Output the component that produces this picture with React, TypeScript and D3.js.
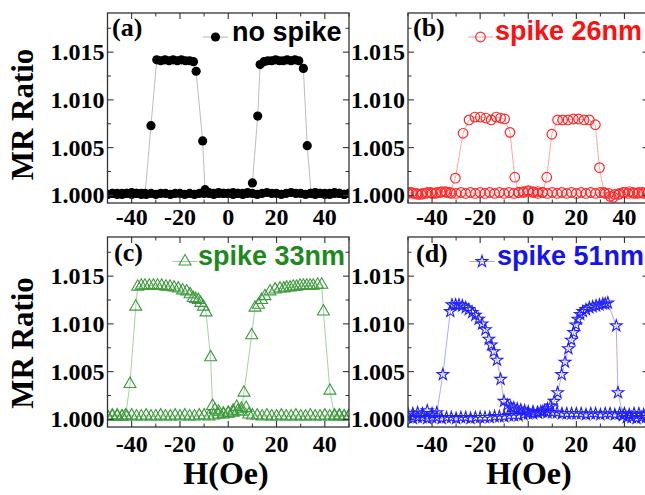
import React from 'react';
import * as d3 from 'd3';

type Pt = [number, number];

// ---------- data ----------
const xTicks = [-40, -20, 0, 20, 40];
const xTickLabels = ['-40', '-20', '0', '20', '40'];
const xMinor = [-50, -30, -10, 10, 30, 50];
const yTicks = [1.0, 1.005, 1.01, 1.015];
const yTickLabels = ['1.000', '1.005', '1.010', '1.015'];
const yMinor = [1.0025, 1.0075, 1.0125, 1.0175];
const panelLetters = ['(a)', '(b)', '(c)', '(d)'];
const seriesNames = ['no spike', 'spike 26nm', 'spike 33nm', 'spike 51nm'];

const aDown: Pt[] = [[50,1.0002],[48,1.0001],[46,1.0002],[44,1.0003],[42,1.0002],[40,1.0001],[38,1.0002],[36,1.0003],[34,1.0002],[32,1.0001],[30,1.0002],[28,1.0002],[26,1.0003],[24,1.0002],[22,1.0001],[20,1.0002],[18,1.0002],[16,1.0003],[14,1.0002],[12,1.0001],[10,1.0002],[8,1.0002],[6,1.0001],[4,1.0002],[2,1.0003],[0,1.0002],[-2,1.0002],[-4,1.0003],[-6,1.0002],[-8,1.0003],[-9.6,1.0006],[-10.6,1.0057],[-13.3,1.013],[-14.4,1.014],[-16.0,1.0141],[-17.7,1.0141],[-19.4,1.0142],[-21.1,1.0141],[-22.8,1.0142],[-24.5,1.0141],[-26.2,1.0142],[-27.9,1.0141],[-29.6,1.0142],[-32.0,1.0073],[-34.4,1.0002],[-36,1.0001],[-38,1.0002],[-40,1.0003],[-42,1.0002],[-44,1.0001],[-46,1.0002],[-48,1.0002],[-50,1.0001]];
const aUp: Pt[] = [[-50,1.0001],[-48,1.0002],[-46,1.0001],[-44,1.0002],[-42,1.0002],[-40,1.0001],[-38,1.0002],[-36,1.0002],[-34,1.0001],[-32,1.0002],[-30,1.0001],[-28,1.0002],[-26,1.0002],[-24,1.0001],[-22,1.0002],[-20,1.0002],[-18,1.0001],[-16,1.0002],[-14,1.0001],[-12,1.0002],[-10,1.0002],[-8,1.0002],[-6,1.0001],[-4,1.0002],[-2,1.0002],[0,1.0002],[2,1.0001],[4,1.0002],[6,1.0002],[8,1.0003],[10,1.0013],[12.2,1.0083],[13.2,1.0137],[14.8,1.014],[16.4,1.0141],[18.0,1.0141],[19.6,1.0142],[21.2,1.0141],[22.8,1.0141],[24.4,1.0142],[26.0,1.0141],[27.6,1.0142],[29.2,1.0141],[31.1,1.0133],[32.7,1.0052],[34.3,1.0002],[36,1.0001],[38,1.0002],[40,1.0002],[42,1.0001],[44,1.0002],[46,1.0002],[48,1.0001],[50,1.0002]];

const bDown: Pt[] = [[50,1.0003],[48,1.0002],[46,1.0003],[44,1.0002],[42,1.0004],[40,1.0003],[38,1.0002],[36,1.0001],[34,0.9999],[32,1.0002],[30,1.0003],[28,1.0002],[26,1.0003],[24,1.0002],[22,1.0003],[20,1.0002],[18,1.0003],[16,1.0002],[14,1.0003],[12,1.0002],[10,1.0003],[8,1.0002],[6,1.0003],[4,1.0002],[2,1.0004],[0,1.0005],[-2,1.0004],[-4,1.0003],[-5.6,1.0019],[-7.6,1.0066],[-9.8,1.008],[-11.5,1.0081],[-13.3,1.0082],[-15.4,1.0079],[-17.6,1.0081],[-19.9,1.0082],[-22.2,1.0082],[-24.6,1.0079],[-27.1,1.0065],[-30.3,1.0018],[-32.5,1.0003],[-34.5,1.0004],[-36.5,1.0003],[-38.5,1.0002],[-40.5,1.0003],[-42.5,1.0002],[-44.5,1.0001],[-46.5,1.0002],[-48.5,1.0003],[-50,1.0002]];
const bUp: Pt[] = [[-50,1.0003],[-48,1.0002],[-46,1.0001],[-44,1.0002],[-42,1.0003],[-40,1.0002],[-38,1.0003],[-36,1.0004],[-34,1.0003],[-32,1.0002],[-30,1.0002],[-28,1.0003],[-26,1.0002],[-24,1.0003],[-22,1.0002],[-20,1.0003],[-18,1.0002],[-16,1.0003],[-14,1.0002],[-12,1.0003],[-10,1.0002],[-8,1.0003],[-6,1.0002],[-4,1.0003],[-2,1.0003],[0,1.0004],[2,1.0003],[4,1.0004],[6,1.0003],[7.7,1.0019],[9.8,1.0064],[12.2,1.0079],[14.3,1.0079],[16.5,1.0079],[18.7,1.008],[20.9,1.008],[23.2,1.0079],[25.4,1.0079],[27.9,1.0074],[29.6,1.0029],[31.5,1.0003],[33.5,1.0002],[35.5,0.9998],[37.5,1.0001],[39.5,1.0003],[41.5,1.0002],[43.5,1.0003],[45.5,1.0002],[47.5,1.0003],[49.5,1.0002]];

const cDown: Pt[] = [[50,1.0003],[48,1.0003],[46,1.0004],[44,1.0003],[42,1.0003],[40,1.0004],[38,1.0003],[36,1.0003],[34,1.0004],[32,1.0003],[30,1.0003],[28,1.0004],[26,1.0003],[24,1.0003],[22,1.0004],[20,1.0003],[18,1.0003],[16,1.0004],[14,1.0003],[12,1.0004],[10,1.0004],[8.5,1.0005],[7.4,1.0012],[5.5,1.0008],[3.5,1.0013],[2,1.0009],[0,1.0007],[-2,1.0006],[-4,1.0008],[-5.5,1.001],[-6.5,1.0014],[-7.3,1.0065],[-9.2,1.0112],[-10.3,1.0118],[-11.4,1.0122],[-12.4,1.0125],[-13.5,1.0126],[-14.5,1.0127],[-15.8,1.0131],[-17.2,1.0134],[-18.9,1.0135],[-20.7,1.0137],[-22.4,1.0138],[-24.1,1.0139],[-25.8,1.0139],[-27.6,1.014],[-29.3,1.014],[-31.0,1.014],[-32.7,1.014],[-34.5,1.014],[-36.0,1.014],[-37.5,1.0139],[-38.3,1.0118],[-40.7,1.0037],[-42.5,1.0004],[-44,1.0003],[-46,1.0003],[-48,1.0004],[-50,1.0003]];
const cUp: Pt[] = [[-50,1.0003],[-48,1.0003],[-46,1.0004],[-44,1.0003],[-42,1.0003],[-40,1.0004],[-38,1.0003],[-36,1.0003],[-34,1.0004],[-32,1.0003],[-30,1.0003],[-28,1.0004],[-26,1.0003],[-24,1.0003],[-22,1.0004],[-20,1.0003],[-18,1.0004],[-16,1.0003],[-14,1.0003],[-12,1.0004],[-10,1.0004],[-8,1.0003],[-6,1.0004],[-4,1.0005],[-2,1.0005],[0,1.0006],[2,1.0007],[4,1.0009],[5.5,1.0011],[6.5,1.0028],[9.7,1.0088],[11.1,1.0117],[12.5,1.012],[13.8,1.0125],[15.2,1.0129],[17.3,1.0134],[19.4,1.0136],[21.4,1.0137],[23.0,1.0137],[24.2,1.0138],[25.6,1.0138],[26.9,1.0139],[28.3,1.0139],[29.7,1.014],[31.1,1.014],[32.5,1.014],[33.9,1.014],[35.2,1.014],[37.0,1.0141],[38.7,1.0141],[39.4,1.0113],[42.1,1.003],[44,1.0004],[46,1.0003],[48,1.0003],[50,1.0004]];

const dDown: Pt[] = [[50,1.0006],[48,1.0005],[46,1.0006],[44,1.0006],[42,1.0005],[40,1.0006],[38,1.0006],[36,1.0005],[34,1.0006],[32,1.0006],[30,1.0005],[28,1.0006],[26,1.0006],[24,1.0005],[22,1.0006],[20,1.0006],[18,1.0006],[16,1.0006],[14,1.0006],[12,1.0007],[10,1.0007],[8,1.0007],[6,1.0008],[4,1.0007],[2,1.0008],[0,1.0008],[-1.5,1.0009],[-3.1,1.001],[-4.6,1.0011],[-6.0,1.0012],[-7.3,1.0013],[-8.7,1.0015],[-10.1,1.0019],[-11.5,1.0042],[-13.0,1.0062],[-14.3,1.0071],[-15.4,1.0078],[-16.4,1.0084],[-17.8,1.0094],[-19.2,1.01],[-20.6,1.0105],[-22.0,1.0109],[-23.3,1.0112],[-24.7,1.0115],[-26.0,1.0117],[-27.4,1.0119],[-28.8,1.012],[-30.2,1.012],[-31.7,1.012],[-32.4,1.0113],[-35.5,1.0047],[-38,1.0007],[-40,1.0006],[-42,1.0009],[-44,1.0006],[-46,1.0007],[-48,1.0006],[-50,1.0006]];
const dUp: Pt[] = [[-50,1.0002],[-48,1.0001],[-46,1.0002],[-44,1.0002],[-42,1.0001],[-40,1.0002],[-38,1.0002],[-36,1.0001],[-34,1.0002],[-32,1.0002],[-30,1.0001],[-28,1.0002],[-26,1.0002],[-24,1.0001],[-22,1.0002],[-20,1.0002],[-18,1.0002],[-16,1.0002],[-14,1.0003],[-12,1.0003],[-10,1.0003],[-8,1.0004],[-6,1.0004],[-4,1.0004],[-2,1.0005],[0,1.0006],[2,1.0006],[3.8,1.0007],[5.2,1.0008],[6.7,1.0009],[8.0,1.0011],[9.4,1.0014],[10.8,1.0019],[12.2,1.0028],[13.9,1.0047],[15.3,1.006],[16.7,1.0074],[17.9,1.0083],[18.9,1.0091],[19.8,1.0099],[20.6,1.0105],[21.6,1.011],[22.7,1.0113],[24.0,1.0115],[25.4,1.0117],[26.8,1.0118],[28.2,1.0119],[29.6,1.012],[31.0,1.0121],[32.0,1.0121],[33.1,1.0122],[36.6,1.0098],[37.3,1.0028],[39.4,1.0004],[41,1.0002],[43,1.0002],[45,1.0001],[47,1.0002],[49,1.0002]];

// ---------- layout / style ----------
const X_DOMAIN: [number, number] = [-50, 50];
const Y_DOMAIN: [number, number] = [0.9992, 1.0191];
const SERIF = '"Liberation Serif", "Times New Roman", serif';
const SANS = '"Liberation Sans", Arial, sans-serif';

type MarkerKind = 'filledCircle' | 'circle' | 'triangle' | 'star';

interface PanelCfg {
  x0: number; x1: number; y0: number; y1: number;
  series: Pt[][];
  marker: MarkerKind;
  color: string;
  lineColor: string;
  textColor: string;
  letterX: number; letterY: number;
  legSymX: number; legSymY: number; legTextX: number; legTextY: number;
  tickLabelY: number;
}

const panels: PanelCfg[] = [
  { x0: 107.5, x1: 349, y0: 13, y1: 203, series: [aDown, aUp], marker: 'filledCircle', color: '#000000', lineColor: '#b4b4b4', textColor: '#000000',
    letterX: 112, letterY: 36, legSymX: 215.5, legSymY: 37, legTextX: 232, legTextY: 41, tickLabelY: 225 },
  { x0: 408, x1: 648.5, y0: 13, y1: 203, series: [bDown, bUp], marker: 'circle', color: '#ff2a2a', lineColor: '#ff9a9a', textColor: '#ff1010',
    letterX: 413, letterY: 36, legSymX: 480.5, legSymY: 37, legTextX: 495, legTextY: 40, tickLabelY: 225 },
  { x0: 107.5, x1: 349, y0: 237, y1: 427, series: [cDown, cUp], marker: 'triangle', color: '#3c9a3c', lineColor: '#9ccc9c', textColor: '#1e8a1e',
    letterX: 114, letterY: 261, legSymX: 185, legSymY: 261.5, legTextX: 198, legTextY: 265, tickLabelY: 451.5 },
  { x0: 408, x1: 648.5, y0: 237, y1: 427, series: [dDown, dUp], marker: 'star', color: '#2020ff', lineColor: '#a0a0ff', textColor: '#1414ee',
    letterX: 416, letterY: 262, legSymX: 482, legSymY: 261.5, legTextX: 497, legTextY: 265, tickLabelY: 451.5 },
];

const triPath = d3.symbol(d3.symbolTriangle, 62)()!;
const starPath = d3.symbol(d3.symbolStar, 42)()!;

function Marker({ kind, x, y, color }: { kind: MarkerKind; x: number; y: number; color: string }) {
  if (kind === 'filledCircle') return <circle cx={x} cy={y} r={4.6} fill={color} />;
  if (kind === 'circle') return <circle cx={x} cy={y} r={4.8} fill="none" stroke={color} strokeWidth={1.2} />;
  if (kind === 'triangle') return <path d={triPath} transform={`translate(${x},${y})`} fill="none" stroke={color} strokeWidth={1.1} />;
  return <path d={starPath} transform={`translate(${x},${y})`} fill="none" stroke={color} strokeWidth={1.1} />;
}

function Panel({ cfg, idx }: { cfg: PanelCfg; idx: number }) {
  const x = d3.scaleLinear().domain(X_DOMAIN).range([cfg.x0, cfg.x1]);
  const y = d3.scaleLinear().domain(Y_DOMAIN).range([cfg.y1, cfg.y0]);
  const line = d3.line<Pt>().x(d => x(d[0])).y(d => y(d[1]));
  const clipId = `clip${idx}`;
  const axisColor = '#333';
  const maj = 6, mnr = 3.5;
  return (
    <g>
      <defs>
        <clipPath id={clipId}>
          <rect x={cfg.x0} y={cfg.y0} width={cfg.x1 - cfg.x0} height={cfg.y1 - cfg.y0} />
        </clipPath>
      </defs>
      <g clipPath={`url(#${clipId})`}>
        {cfg.series.map((s, i) => (
          <path key={'l' + i} d={line(s)!} fill="none" stroke={cfg.lineColor} strokeWidth={0.9} />
        ))}
        {cfg.series.map((s, i) => (
          <g key={'m' + i}>
            {s.map((d, j) => <Marker key={j} kind={cfg.marker} x={x(d[0])} y={y(d[1])} color={cfg.color} />)}
          </g>
        ))}
      </g>
      <rect x={cfg.x0} y={cfg.y0} width={cfg.x1 - cfg.x0} height={cfg.y1 - cfg.y0} fill="none" stroke={axisColor} strokeWidth={1.3} />
      {/* x ticks */}
      {xTicks.map(t => (
        <g key={'xt' + t}>
          <line x1={x(t)} x2={x(t)} y1={cfg.y1} y2={cfg.y1 - maj} stroke={axisColor} strokeWidth={1.1} />
          <line x1={x(t)} x2={x(t)} y1={cfg.y0} y2={cfg.y0 + maj} stroke={axisColor} strokeWidth={1.1} />
        </g>
      ))}
      {xMinor.map(t => (
        <g key={'xm' + t}>
          <line x1={x(t)} x2={x(t)} y1={cfg.y1} y2={cfg.y1 - mnr} stroke={axisColor} strokeWidth={1} />
          <line x1={x(t)} x2={x(t)} y1={cfg.y0} y2={cfg.y0 + mnr} stroke={axisColor} strokeWidth={1} />
        </g>
      ))}
      {xTicks.map((t, i) => (
        <text key={'xl' + t} x={x(t)} y={cfg.tickLabelY} textAnchor="middle" fontFamily={SERIF} fontWeight="bold" fontSize={24} fill="#000">
          {xTickLabels[i]}
        </text>
      ))}
      {/* y ticks */}
      {yTicks.map(t => (
        <g key={'yt' + t}>
          <line x1={cfg.x0} x2={cfg.x0 + maj} y1={y(t)} y2={y(t)} stroke={axisColor} strokeWidth={1.1} />
          <line x1={cfg.x1} x2={cfg.x1 - maj} y1={y(t)} y2={y(t)} stroke={axisColor} strokeWidth={1.1} />
        </g>
      ))}
      {yMinor.map(t => (
        <g key={'ym' + t}>
          <line x1={cfg.x0} x2={cfg.x0 + mnr} y1={y(t)} y2={y(t)} stroke={axisColor} strokeWidth={1} />
          <line x1={cfg.x1} x2={cfg.x1 - mnr} y1={y(t)} y2={y(t)} stroke={axisColor} strokeWidth={1} />
        </g>
      ))}
      {yTicks.map((t, i) => (
        <text key={'yl' + t} x={cfg.x0 - 3} y={y(t) + 8} textAnchor="end" fontFamily={SERIF} fontWeight="bold" fontSize={24} fill="#000">
          {yTickLabels[i]}
        </text>
      ))}
      {/* panel letter */}
      <text x={cfg.letterX} y={cfg.letterY} fontFamily={SERIF} fontWeight="bold" fontSize={26} fill="#000">{panelLetters[idx]}</text>
      {/* legend */}
      <line x1={cfg.legSymX - 12.5} x2={cfg.legSymX + 12.5} y1={cfg.legSymY} y2={cfg.legSymY} stroke={cfg.lineColor} strokeWidth={1} />
      <Marker kind={cfg.marker} x={cfg.legSymX} y={cfg.legSymY} color={cfg.color} />
      <text x={cfg.legTextX} y={cfg.legTextY} fontFamily={SANS} fontWeight="bold" fontSize={27} fill={cfg.textColor}>{seriesNames[idx]}</text>
    </g>
  );
}

export default function App() {
  return (
    <svg width={645} height={495} viewBox="0 0 645 495" style={{ position: 'absolute', left: 0, top: 0, background: '#fff' }}>
      <rect x={0} y={0} width={645} height={495} fill="#fff" />
      {panels.map((p, i) => <Panel key={i} cfg={p} idx={i} />)}
      <text transform="translate(33,114.5) rotate(-90)" textAnchor="middle" fontFamily={SERIF} fontWeight="bold" fontSize={31} fill="#000">MR Ratio</text>
      <text transform="translate(33,343) rotate(-90)" textAnchor="middle" fontFamily={SERIF} fontWeight="bold" fontSize={31} fill="#000">MR Ratio</text>
      <text x={226} y={484} textAnchor="middle" fontFamily={SERIF} fontWeight="bold" fontSize={32} fill="#000">H(Oe)</text>
      <text x={529} y={484} textAnchor="middle" fontFamily={SERIF} fontWeight="bold" fontSize={32} fill="#000">H(Oe)</text>
    </svg>
  );
}
